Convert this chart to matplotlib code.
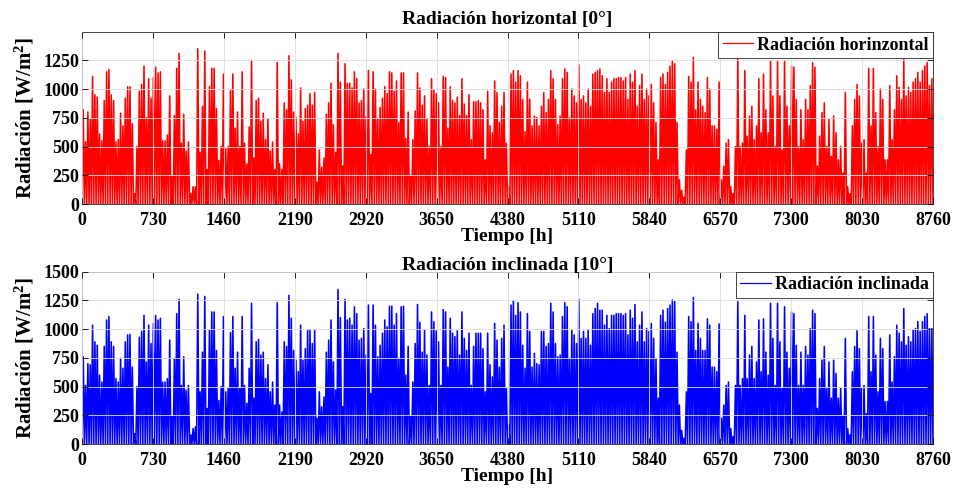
import numpy as np
import matplotlib
matplotlib.use("Agg")
import matplotlib.pyplot as plt

# daily peak values (W/m2), one spike per day
horiz_peaks = [
    820, 540, 800, 740, 1110, 950, 930, 610, 550, 900, 1150, 1170, 950, 900, 540, 560, 790, 680, 920, 1020,
    1020, 700, 90, 500, 980, 1040, 1200, 750, 1090, 920, 1100, 1190, 1140, 1150, 550, 550, 600, 940, 240, 770,
    1180, 1310, 530, 780, 460, 540, 90, 150, 150, 1350, 450, 850, 1330, 300, 1020, 1180, 1180, 830, 380, 500,
    1130, 480, 500, 990, 1130, 660, 800, 500, 1150, 530, 350, 670, 1250, 400, 900, 920, 720, 790, 560, 740,
    460, 540, 300, 1230, 350, 300, 880, 820, 1290, 1080, 800, 750, 610, 1010, 720, 830, 860, 960, 860, 970,
    190, 470, 320, 400, 780, 880, 1050, 690, 450, 1310, 1060, 330, 1220, 1050, 1050, 1010, 1150, 1090, 880, 900,
    1000, 760, 1160, 430, 1150, 1000, 740, 840, 920, 1020, 960, 1150, 1140, 980, 1070, 710, 1140, 1140, 570, 800,
    250, 560, 810, 1140, 1010, 860, 940, 740, 500, 1090, 990, 960, 880, 500, 1110, 1100, 660, 1020, 900, 880,
    930, 770, 1090, 870, 770, 950, 560, 890, 890, 900, 880,
    820, 385, 980, 680, 620, 1070, 970, 710, 850, 970, 530, 150, 1130, 1160, 1060, 1160, 1115, 910, 630, 1060,
    910, 680, 765, 750, 680, 850, 970, 795, 910, 1160, 1090, 910, 690, 765, 1090, 1175, 1145, 750, 1000, 940,
    880, 1210, 910, 940, 880, 1000, 850, 1130, 1145, 1160, 1175, 1115, 970, 1090, 970, 1060, 1090, 1090, 1100, 1100,
    1070, 1100, 910, 1130, 1060, 1160, 850, 1030, 1130, 910, 1000, 940, 1040, 880, 710, 385, 1100, 1130, 1040, 1145,
    1200, 1245, 1220, 710, 210, 120, 60, 470, 1110, 1060, 1275, 820, 1060, 910, 850, 795, 1100, 1000, 680, 680,
    650, 1060, 210, 330, 530, 560, 150, 90, 500, 1270, 500, 530, 1160, 590, 765, 850, 560, 680, 1090, 620,
    1130, 820, 620, 1245, 940, 500, 1245, 940, 470, 1245, 850, 680, 1200, 1190, 910, 500, 820, 560, 910, 820,
    1030, 1230, 1190, 330, 590, 795, 880, 500, 735, 415, 765, 620, 385, 500, 270, 970, 150, 90, 680, 910,
    1040, 940, 530, 560, 270, 1180, 680, 1180, 795, 500, 1000, 910, 385, 385, 1030, 560, 820, 1115, 1015, 910,
    1260, 940, 1015, 970, 1060, 1090, 1145, 1060, 1160, 1200, 1230, 1030, 1090,
]

incl_peaks = [
    760, 510, 700, 690, 1035, 890, 860, 600, 540, 850, 1080, 1110, 890, 850, 570, 540, 745, 660, 890, 950,
    955, 670, 90, 500, 930, 980, 1120, 715, 1035, 875, 1050, 1120, 1080, 1095, 540, 540, 570, 905, 240, 745,
    1135, 1260, 510, 760, 470, 510, 80, 135, 150, 1305, 455, 800, 1285, 310, 990, 1150, 1150, 815, 380, 500,
    1110, 455, 485, 970, 1110, 660, 800, 485, 1110, 510, 355, 660, 1225, 400, 890, 910, 775, 800, 570, 690,
    455, 540, 340, 1230, 340, 280, 890, 850, 1295, 1095, 815, 730, 630, 1035, 730, 830, 990, 990, 875, 990,
    225, 455, 325, 410, 800, 905, 1080, 715, 470, 1345, 1100, 325, 1260, 1080, 1095, 1035, 1195, 1135, 905, 920,
    1005, 775, 1210, 440, 1210, 1035, 760, 860, 965, 1080, 1020, 1200, 1200, 1035, 1135, 745, 1195, 1200, 600, 850,
    240, 540, 875, 1215, 1060, 800, 990, 775, 510, 1150, 1065, 985, 890, 510, 1170, 1150, 670, 1095, 965, 935,
    985, 775, 1150, 920, 815, 965, 510, 850, 965, 965, 965,
    830, 455, 965, 690, 585, 1050, 905, 670, 920, 1035, 485, 165, 1210, 1245, 1120, 1230, 1150, 860, 660, 1135,
    980, 670, 790, 700, 690, 980, 980, 850, 875, 1225, 1150, 875, 760, 775, 1110, 1230, 1195, 745, 990, 950,
    875, 1260, 920, 980, 920, 990, 860, 1135, 1180, 1225, 1165, 1165, 1035, 1120, 1005, 1120, 1120, 1135, 1135, 1135,
    1120, 1135, 950, 1165, 1095, 1215, 890, 1035, 1150, 890, 1005, 980, 1050, 920, 745, 400, 1120, 1165, 1060, 1180,
    1210, 1255, 1240, 800, 340, 120, 50, 455, 1110, 1065, 1275, 815, 1050, 920, 815, 815, 1090, 1035, 670, 670,
    630, 1045, 225, 340, 510, 540, 135, 65, 510, 1240, 510, 570, 1120, 570, 775, 850, 570, 715, 1080, 630,
    1090, 800, 600, 1225, 920, 510, 1225, 890, 485, 1195, 800, 660, 1150, 1135, 860, 510, 800, 510, 850, 775,
    1005, 1165, 1135, 310, 570, 730, 850, 485, 715, 400, 730, 615, 400, 485, 250, 920, 135, 80, 630, 850,
    985, 830, 485, 510, 265, 1110, 630, 1110, 775, 455, 920, 830, 370, 370, 950, 540, 760, 1035, 965, 890,
    1180, 860, 935, 890, 990, 1005, 1065, 980, 1065, 1110, 1135, 1005, 1005,
]

hour_ticks = [0, 730, 1460, 2190, 2920, 3650, 4380, 5110, 5840, 6570, 7300, 8030, 8760]
top_yticks = [0, 250, 500, 750, 1000, 1250]
bottom_yticks = [0, 250, 500, 750, 1000, 1250, 1500]


def spike_series(peaks):
    n = len(peaks)
    y = np.zeros(2 * n + 1)
    y[1::2] = peaks
    x = np.linspace(0, 8760, 2 * n + 1)
    return x, y


plt.rcParams.update({
    "font.family": ["Liberation Serif", "DejaVu Serif"],
    "font.weight": "bold",
    "axes.labelweight": "bold",
    "axes.titleweight": "bold",
    "mathtext.fontset": "custom",
    "mathtext.rm": "Liberation Serif:bold",
    "mathtext.bf": "Liberation Serif:bold",
    "mathtext.it": "Liberation Serif:bold",
})

fig = plt.figure(figsize=(9.54, 4.94), dpi=100)
ax1 = fig.add_axes([0.086, 0.587, 0.892, 0.348])
ax2 = fig.add_axes([0.086, 0.101, 0.892, 0.349])

panels = [
    (ax1, horiz_peaks, "red", "Radiación horinzontal", "Radiación horizontal [0°]", 1495, top_yticks, 6),
    (ax2, incl_peaks, "blue", "Radiación inclinada", "Radiación inclinada [10°]", 1500, bottom_yticks, 1.5),
]

for ax, peaks, colour, label, title, ytop, yticks, tpad in panels:
    x, y = spike_series(peaks)
    ax.plot(x, y, color=colour, lw=1.15, label=label)
    ax.set_xlim(0, 8760)
    ax.set_ylim(0, ytop)
    ax.set_xticks(hour_ticks)
    ax.set_yticks(yticks)
    ax.grid(True, color="#dcdcdc", lw=0.6)
    ax.set_axisbelow(False)
    ax.tick_params(direction="in", top=True, right=True, length=4, width=0.6, labelsize=13)
    ax.tick_params(axis="x", pad=6)
    ax.tick_params(axis="y", pad=2)
    for s in ax.spines.values():
        s.set_linewidth(0.6)
        s.set_color("#262626")
    ax.set_title(title, fontsize=14, pad=tpad)
    ax.set_xlabel("Tiempo [h]", fontsize=14, labelpad=-1)
    ax.set_ylabel(r"Radiación [W/m$^{\mathbf{2}}$]", fontsize=15, labelpad=5)
    leg = ax.legend(loc="upper right", borderaxespad=0, fancybox=False, framealpha=1,
                    edgecolor="#262626", handlelength=1.7, handletextpad=0.2, borderpad=0.25,
                    prop={"weight": "bold", "size": 13})
    leg.get_frame().set_linewidth(0.6)
    for handle in leg.get_lines():
        handle.set_linewidth(0.9)

fig.savefig("out.png", dpi=100)
